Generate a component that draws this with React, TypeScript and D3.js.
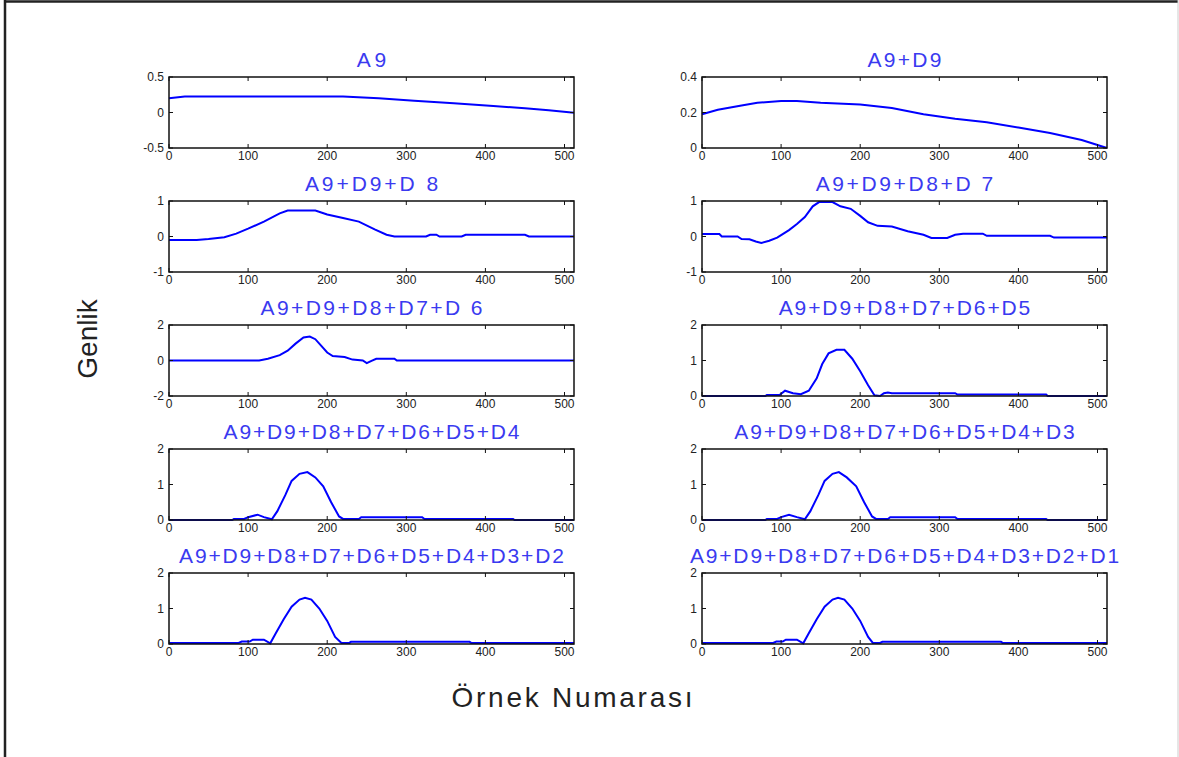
import React from "react";
import * as d3 from "d3";

// Reconstructions of a 512-sample signal from wavelet levels (sample index, amplitude)
const a9: [number, number][] = [
  [0, 0.2], [20, 0.225], [220, 0.225], [265, 0.2], [310, 0.165], [360, 0.13],
  [410, 0.09], [450, 0.06], [480, 0.03], [512, -0.005],
];
const a9d9: [number, number][] = [
  [0, 0.19], [20, 0.215], [50, 0.24], [70, 0.255], [100, 0.265], [120, 0.265],
  [150, 0.255], [200, 0.245], [240, 0.225], [280, 0.19], [320, 0.165],
  [360, 0.145], [400, 0.115], [440, 0.085], [480, 0.045], [512, 0.0],
];
const a9d8: [number, number][] = [
  [0, -0.1], [35, -0.1], [50, -0.07], [70, -0.02], [85, 0.08], [100, 0.22],
  [120, 0.42], [140, 0.65], [150, 0.73], [185, 0.73], [200, 0.62], [220, 0.52],
  [240, 0.42], [260, 0.2], [275, 0.05], [285, 0.0], [325, 0.0], [330, 0.05],
  [338, 0.05], [342, 0.0], [370, 0.0], [375, 0.05], [450, 0.05], [455, 0.0],
  [512, 0.0],
];
const a9d7: [number, number][] = [
  [0, 0.07], [22, 0.07], [25, 0.0], [45, 0.0], [50, -0.07], [60, -0.08],
  [68, -0.14], [75, -0.18], [85, -0.12], [95, -0.03], [100, 0.04], [110, 0.18],
  [120, 0.35], [130, 0.55], [140, 0.85], [148, 0.97], [165, 0.97], [175, 0.85],
  [188, 0.78], [200, 0.58], [210, 0.4], [222, 0.3], [240, 0.28], [260, 0.15],
  [280, 0.05], [290, -0.04], [310, -0.04], [320, 0.05], [330, 0.08], [355, 0.08],
  [360, 0.02], [440, 0.02], [445, -0.03], [512, -0.03],
];
const a9d6: [number, number][] = [
  [0, 0.0], [114, 0.0], [125, 0.1], [140, 0.3], [150, 0.55], [160, 0.95],
  [170, 1.3], [178, 1.35], [185, 1.2], [192, 0.85], [200, 0.45], [207, 0.25],
  [222, 0.2], [232, 0.05], [245, 0.0], [250, -0.15], [256, -0.02], [262, 0.1],
  [285, 0.1], [288, 0.0], [512, 0.0],
];
const a9d5: [number, number][] = [
  [0, 0.0], [80, 0.0], [82, 0.03], [98, 0.03], [105, 0.15], [115, 0.08],
  [125, 0.05], [135, 0.15], [145, 0.5], [152, 0.9], [160, 1.2], [170, 1.3],
  [180, 1.3], [190, 1.05], [200, 0.7], [210, 0.3], [218, 0.02], [225, 0.0],
  [230, 0.08], [235, 0.1], [240, 0.08], [320, 0.08], [323, 0.04], [435, 0.04],
  [437, 0.0], [512, 0.0],
];
const a9d4: [number, number][] = [
  [0, 0.0], [80, 0.0], [82, 0.03], [95, 0.03], [100, 0.08], [112, 0.15],
  [120, 0.08], [130, 0.02], [137, 0.25], [147, 0.7], [155, 1.1], [165, 1.3],
  [175, 1.35], [185, 1.2], [195, 0.95], [205, 0.5], [215, 0.1], [220, 0.03],
  [240, 0.03], [243, 0.08], [320, 0.08], [323, 0.03], [435, 0.03], [437, 0.0],
  [512, 0.0],
];
const a9d3: [number, number][] = [
  [0, 0.0], [80, 0.0], [82, 0.03], [95, 0.03], [100, 0.08], [110, 0.15],
  [120, 0.08], [130, 0.02], [137, 0.25], [147, 0.7], [155, 1.1], [165, 1.3],
  [173, 1.35], [183, 1.2], [195, 0.95], [205, 0.5], [215, 0.1], [220, 0.03],
  [235, 0.03], [238, 0.08], [320, 0.08], [323, 0.03], [435, 0.03], [437, 0.0],
  [512, 0.0],
];
const a9d2: [number, number][] = [
  [0, 0.03], [88, 0.03], [92, 0.07], [102, 0.07], [106, 0.12], [120, 0.12],
  [128, 0.02], [135, 0.3], [145, 0.7], [155, 1.05], [165, 1.25], [172, 1.3],
  [180, 1.25], [190, 1.0], [200, 0.65], [210, 0.2], [218, 0.03], [228, 0.03],
  [230, 0.06], [380, 0.06], [382, 0.03], [512, 0.03],
];
const a9d1: [number, number][] = [
  [0, 0.03], [90, 0.03], [94, 0.07], [102, 0.07], [106, 0.12], [120, 0.12],
  [128, 0.02], [135, 0.3], [145, 0.7], [155, 1.05], [165, 1.25], [172, 1.3],
  [180, 1.25], [190, 1.0], [200, 0.65], [210, 0.2], [216, 0.03], [225, 0.03],
  [228, 0.06], [378, 0.06], [380, 0.03], [512, 0.03],
];

const titles = [
  "A9", "A9+D9", "A9+D9+D 8", "A9+D9+D8+D 7", "A9+D9+D8+D7+D 6",
  "A9+D9+D8+D7+D6+D5", "A9+D9+D8+D7+D6+D5+D4", "A9+D9+D8+D7+D6+D5+D4+D3",
  "A9+D9+D8+D7+D6+D5+D4+D3+D2", "A9+D9+D8+D7+D6+D5+D4+D3+D2+D1",
];
const series = [a9, a9d9, a9d8, a9d7, a9d6, a9d5, a9d4, a9d3, a9d2, a9d1];
const yDomains: [number, number][] = [
  [-0.5, 0.5], [0, 0.4], [-1, 1], [-1, 1], [-2, 2], [0, 2], [0, 2], [0, 2], [0, 2], [0, 2],
];
const yTickSets: number[][] = [
  [-0.5, 0, 0.5], [0, 0.2, 0.4], [-1, 0, 1], [-1, 0, 1], [-2, 0, 2],
  [0, 1, 2], [0, 1, 2], [0, 1, 2], [0, 1, 2], [0, 1, 2],
];
const xTicks = [0, 100, 200, 300, 400, 500];
const xDomain: [number, number] = [0, 512];
const yAxisLabel = "Genlik";
const xAxisLabel = "Örnek Numarası";

const W = 1179;
const H = 757;
const colX = [169, 702];
const plotW = 405;
const rowTop0 = 77;
const rowStep = 124;
const plotH = 71;
const font = "Arial, 'Liberation Sans', sans-serif";

function Panel({ idx }: { idx: number }) {
  const col = idx % 2;
  const row = Math.floor(idx / 2);
  const left = colX[col];
  const top = rowTop0 + row * rowStep;
  const x = d3.scaleLinear().domain(xDomain).range([left, left + plotW]);
  const y = d3.scaleLinear().domain(yDomains[idx]).range([top + plotH, top]);
  const line = d3
    .line<[number, number]>()
    .x((d) => x(d[0]))
    .y((d) => y(d[1]));
  const t = titles[idx];
  const tick = 4;
  return (
    <g>
      <text
        x={left + plotW / 2}
        y={top - 10}
        textAnchor="middle"
        fontFamily={font}
        fontSize={21}
        fill="#3a3af0"
        textLength={t.length * 14.8}
        lengthAdjust="spacing"
      >
        {t}
      </text>
      <path d={line(series[idx]) || ""} fill="none" stroke="#0000ff" strokeWidth={2} />
      <rect x={left} y={top} width={plotW} height={plotH} fill="none" stroke="#111" strokeWidth={1.5} />
      {xTicks.map((v) => (
        <g key={"x" + v}>
          <line x1={x(v)} x2={x(v)} y1={top + plotH} y2={top + plotH - tick} stroke="#111" />
          <line x1={x(v)} x2={x(v)} y1={top} y2={top + tick} stroke="#111" />
          <text
            x={x(v)}
            y={top + plotH + 12}
            textAnchor="middle"
            fontFamily={font}
            fontSize={12}
            fill="#222"
          >
            {v}
          </text>
        </g>
      ))}
      {yTickSets[idx].map((v) => (
        <g key={"y" + v}>
          <line x1={left} x2={left + tick} y1={y(v)} y2={y(v)} stroke="#111" />
          <line x1={left + plotW} x2={left + plotW - tick} y1={y(v)} y2={y(v)} stroke="#111" />
          <text
            x={left - 5}
            y={y(v) + 4}
            textAnchor="end"
            fontFamily={font}
            fontSize={12}
            fill="#222"
          >
            {v}
          </text>
        </g>
      ))}
    </g>
  );
}

export default function App() {
  return (
    <svg
      width={W}
      height={H}
      style={{ position: "absolute", left: 0, top: 0, background: "#fff" }}
    >
      <rect x={0} y={0} width={W} height={H} fill="#fff" />
      <line x1={5} x2={5} y1={0} y2={H} stroke="#222" strokeWidth={2.5} />
      <line x1={4} x2={1178} y1={1.5} y2={1.5} stroke="#222" strokeWidth={2.5} />
      <line x1={1178} x2={1178} y1={0} y2={H} stroke="#ccc" strokeWidth={1} />
      {series.map((_, i) => (
        <Panel key={i} idx={i} />
      ))}
      <text
        transform="translate(97,339) rotate(-90)"
        textAnchor="middle"
        fontFamily={font}
        fontSize={28}
        fill="#222"
      >
        {yAxisLabel}
      </text>
      <text
        x={572}
        y={707}
        textAnchor="middle"
        fontFamily={font}
        fontSize={28}
        fill="#222"
        textLength={241}
        lengthAdjust="spacing"
      >
        {xAxisLabel}
      </text>
    </svg>
  );
}
